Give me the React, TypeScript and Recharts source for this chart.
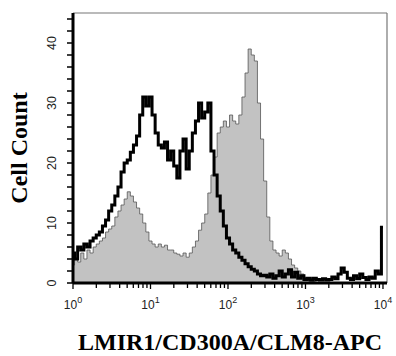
import React from 'react';
import { ComposedChart, Area, Line, XAxis, YAxis, ReferenceLine } from 'recharts';

// log channels: 25 bins per decade, 10^0 .. 10^4
const binsPerDecade = 25;

const grayCounts = [
  3, 4, 3.5, 5, 4, 5.5, 5, 6, 6.5, 7,
  7.5, 8.5, 9, 9.5, 11, 12, 13, 14, 15.2, 14.5,
  13.5, 12.5, 11.5, 10, 8.5, 7, 6.5, 6, 6.5, 6,
  6.3, 5.5, 5.5, 5, 4.8, 4.5, 5, 4.3, 5, 6,
  7, 8.8, 10, 11.5, 15, 18, 21, 25, 26, 27,
  26, 28, 27, 26.5, 28, 31, 35, 39, 38, 37,
  30, 24, 17, 11, 7, 5.5, 5, 4.5, 5.5, 5,
  4, 3, 2.5, 2, 1.5, 0.8, 0.5, 0.3, 0.2, 0,
  0, 0, 0, 0, 0, 0, 0, 0, 0, 0,
  0, 0, 0, 0, 0, 0, 0, 0, 0, 0,
  0,
];

const blackCounts = [
  5, 4, 6, 5.5, 6.5, 6, 7, 7.5, 8, 8.5,
  9.5, 10.5, 12, 13, 14.5, 16, 18.5, 20, 20.5, 21.8,
  23, 24.5, 28, 31, 29.5, 31, 28, 25, 23, 22.5,
  23.5, 20.5, 22, 19.5, 17.5, 22, 24, 19, 22, 25,
  27, 30, 27.5, 28.5, 30, 22, 18, 14.5, 12, 9.5,
  7.5, 6.5, 5.5, 5, 4.3, 3.8, 3.2, 2.7, 2.3, 2,
  1.5, 1.2, 1.3, 1, 1.5, 0.8, 1.2, 2, 1, 1.5,
  2.2, 1, 1.8, 0.8, 1.2, 0.6, 0.8, 0.5, 0.8, 0.6,
  0.5, 0.7, 0.5, 0.6, 1, 0.7, 1.5, 2.5, 1.8, 0.8,
  0.6, 1.2, 0.7, 1.5, 0.9, 0.6, 1, 0.8, 2, 1.5,
  9.3,
];

const xMajorTicks = [1, 10, 100, 1000, 10000];
const xMinorMultipliers = [2, 3, 4, 5, 6, 7, 8, 9];
const xExponents = ['0', '1', '2', '3', '4'];
const yTicks = [0, 2, 4, 6, 8, 10, 12, 14, 16, 18, 20, 22, 24, 26, 28, 30, 32, 34, 36, 38, 40, 42, 44];
const yLabelTicks = [0, 10, 20, 30, 40];
const xMax = 11270;
const yMax = 45;

const xAllTicks: number[] = [];
xMajorTicks.forEach((m, i) => {
  xAllTicks.push(m);
  if (i < xMajorTicks.length - 1) xMinorMultipliers.forEach((k) => xAllTicks.push(m * k));
});

const data = grayCounts.map((g, i) => ({
  x: Math.pow(10, i / binsPerDecade),
  gray: g,
  black: blackCounts[i],
}));

const XTick = (props: any) => {
  const { x, y, payload } = props;
  const v = payload.value;
  const majorIdx = xMajorTicks.findIndex((m) => Math.abs(m - v) < 1e-6 * m);
  const isMajor = majorIdx >= 0;
  return (
    <g>
      <line x1={x} x2={x} y1={y} y2={y + (isMajor ? 6 : 5)} stroke="#000" strokeWidth={1.3} />
      {isMajor && (
        <text x={x} y={y + 26} textAnchor="middle" fontFamily="Liberation Sans, Arial, sans-serif" fontSize={12} fill="#222">
          <tspan>10</tspan>
          <tspan dy={-6} fontSize={9}>{xExponents[majorIdx]}</tspan>
        </text>
      )}
    </g>
  );
};

const YTick = (props: any) => {
  const { x, y, payload } = props;
  const v = payload.value;
  const show = yLabelTicks.includes(v);
  const bx = x - 17;
  return (
    <g>
      <line x1={x - 6} x2={x} y1={y} y2={y} stroke="#000" strokeWidth={1.5} />
      {show && (
        <text x={bx} y={y} transform={`rotate(-90, ${bx}, ${y})`} textAnchor="middle" fontFamily="Liberation Sans, Arial, sans-serif" fontSize={12.5} fill="#222">
          {v}
        </text>
      )}
    </g>
  );
};

const YLabel = (props: any) => {
  const vb = props.viewBox || { x: 13, y: 13, width: 60, height: 270 };
  const bx = vb.x + 14;
  const cy = vb.y + vb.height / 2;
  return (
    <text x={bx} y={cy} transform={`rotate(-90, ${bx}, ${cy})`} textAnchor="middle" fontFamily="Liberation Serif, 'Times New Roman', serif" fontWeight="bold" fontSize={24} fill="#000">
      Cell Count
    </text>
  );
};

const XLabel = (props: any) => {
  const vb = props.viewBox || { x: 73, y: 283, width: 314, height: 40 };
  return (
    <text x={vb.x + vb.width / 2} y={vb.y + 67} textAnchor="middle" fontFamily="Liberation Serif, 'Times New Roman', serif" fontWeight="bold" fontSize={24} fill="#000">
      LMIR1/CD300A/CLM8-APC
    </text>
  );
};

export default function App() {
  return (
    <div style={{ position: 'absolute', left: 0, top: 0, width: 396, height: 356, background: '#fff' }}>
      <ComposedChart width={396} height={356} data={data} margin={{ top: 13, right: 9, bottom: 33, left: 13 }}>
        <XAxis
          dataKey="x"
          type="number"
          scale="log"
          domain={[1, xMax]}
          allowDataOverflow
          ticks={xAllTicks}
          interval={0}
          tickSize={0}
          tickMargin={0}
          tick={<XTick />}
          tickLine={false}
          height={40}
          axisLine={{ stroke: '#000', strokeWidth: 3 }}
          label={<XLabel />}
        />
        <YAxis
          type="number"
          domain={[0, yMax]}
          allowDataOverflow
          ticks={yTicks}
          interval={0}
          tickSize={0}
          tickMargin={0}
          tick={<YTick />}
          tickLine={false}
          width={60}
          axisLine={{ stroke: '#000', strokeWidth: 3 }}
          label={<YLabel />}
        />
        <ReferenceLine y={yMax} stroke="#777" strokeWidth={1.2} />
        <ReferenceLine x={xMax} stroke="#777" strokeWidth={1.2} />
        <Area
          dataKey="gray"
          type="step"
          fill="#c2c2c2"
          fillOpacity={1}
          stroke="#555"
          strokeWidth={0.8}
          isAnimationActive={false}
          dot={false}
          activeDot={false}
        />
        <Line
          dataKey="black"
          type="step"
          stroke="#000"
          strokeWidth={3}
          isAnimationActive={false}
          dot={false}
          activeDot={false}
        />
      </ComposedChart>
    </div>
  );
}
